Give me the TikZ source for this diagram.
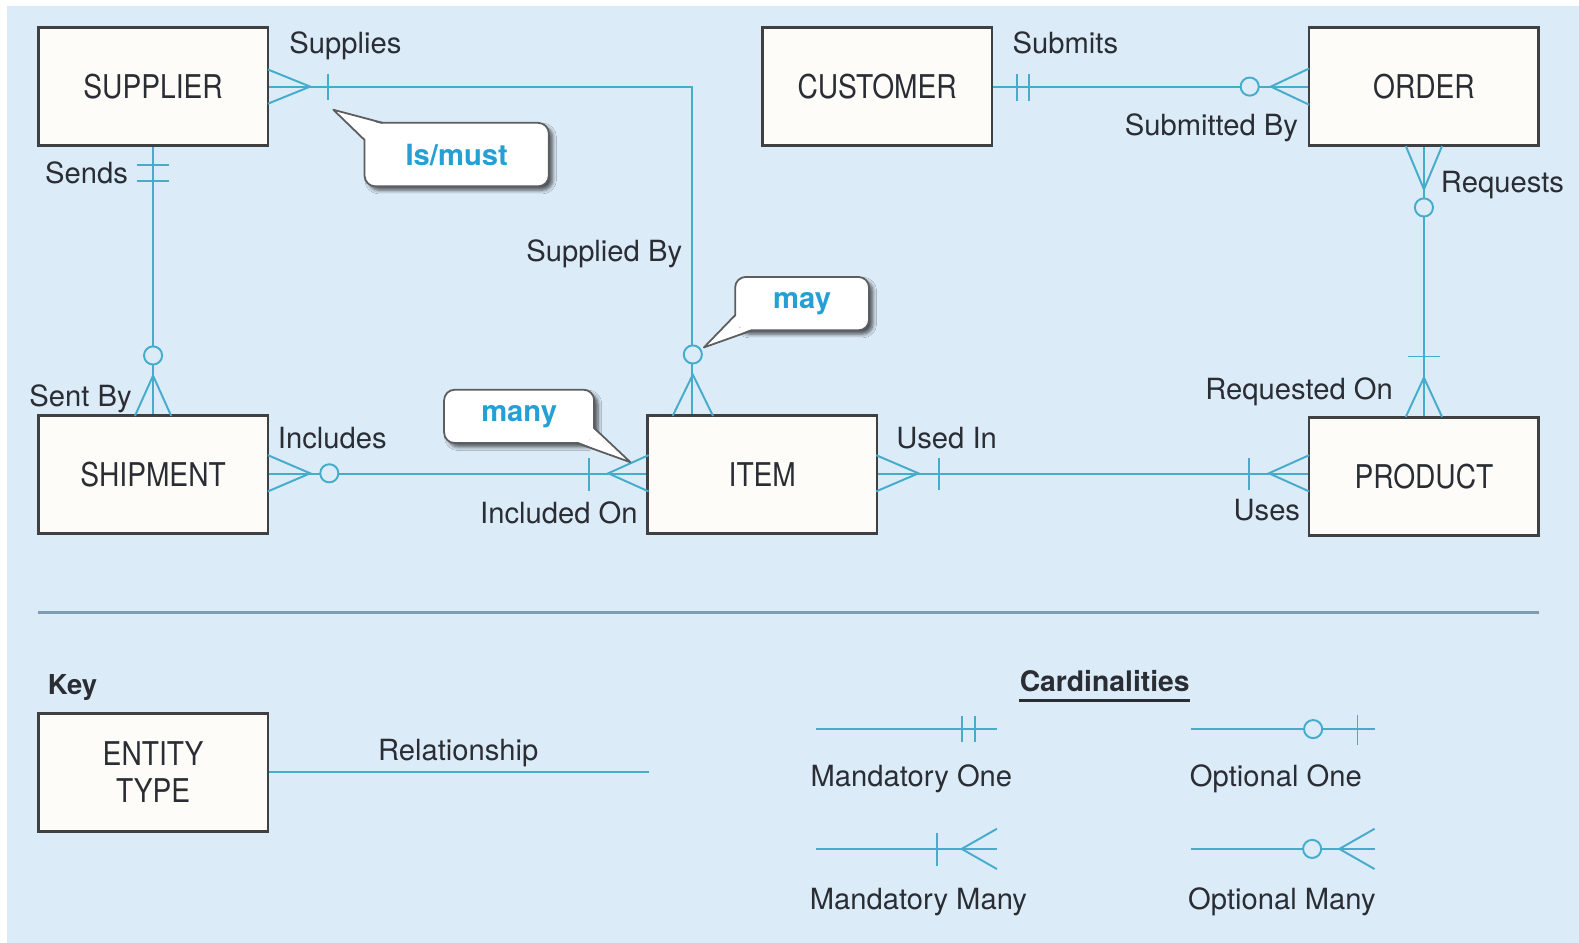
\documentclass[tikz,border=0pt]{standalone}
\usepackage{fontspec}
\setmainfont{TeX Gyre Heros}
\usetikzlibrary{calc,shadows.blur}
\definecolor{bg}{RGB}{220,235,248}
\definecolor{relc}{RGB}{70,172,204}
\definecolor{ink}{RGB}{42,46,52}
\definecolor{boxline}{RGB}{62,64,66}
\definecolor{boxfill}{RGB}{253,252,248}
\definecolor{notec}{RGB}{38,160,212}
\definecolor{sepc}{RGB}{128,156,176}

% entity names are set slightly condensed
\newcommand\entname[1]{\scalebox{0.86}[1]{#1}}

\begin{document}
\begin{tikzpicture}[x=0.02cm,y=-0.02cm,
  rel/.style={draw=relc,line width=1.1pt},
  ringmark/.style={draw=relc,line width=1.1pt,fill=bg},
  entity/.style={draw=boxline,fill=boxfill,line width=1.5pt,minimum width=4.56cm,
    minimum height=2.34cm,inner sep=0pt,text=ink,
    font=\fontsize{18.5}{21}\selectfont,align=center},
  lbl/.style={text=ink,font=\fontsize{16.5}{19}\selectfont,inner sep=0pt,
    text height=12pt,text depth=3.5pt},
  bold lbl/.style={lbl,font=\fontsize{15.5}{19}\selectfont\bfseries},
  note/.style={draw=boxline!85,fill=white,line width=1pt,rounded corners=6pt,
    text=notec,inner sep=0pt,font=\fontsize{16.5}{19}\selectfont\bfseries,
    blur shadow={shadow xshift=2.2pt,shadow yshift=-2.2pt,shadow blur steps=6,shadow opacity=65}},
  wedge/.style={draw=boxline!85,line width=1pt,line join=round},
  sepline/.style={draw=sepc,line width=1.8pt},
]
\useasboundingbox (0,0) rectangle (1568,936);
\fill[bg] (7,6) rectangle (1568,936);

% ---------------- entities ----------------
\node[entity] (sup) at (152,86)  {\entname{SUPPLIER}};
\node[entity] (cus) at (871,86)  {\entname{CUSTOMER}};
\node[entity] (ord) at (1414,86) {\entname{ORDER}};
\node[entity] (shp) at (152,471) {\entname{SHIPMENT}};
\node[entity] (item) at (757,471) {\entname{ITEM}};
\node[entity] (prd) at (1414,473) {\entname{PRODUCT}};

% ---------------- relationships ----------------
\coordinate (itemTop) at ($(item.north west)+(45,0)$);
\draw[rel] (sup.east) -| (itemTop);
\draw[rel] (sup.south) -- (shp.north);
\draw[rel] (shp.east) -- (item.west);
\draw[rel] (item.east) -- (item.east -| prd.west);
\draw[rel] (cus.east) -- (ord.west);
\draw[rel] (ord.south) -- (prd.north);

% ---------------- cardinality marks ----------------
% SUPPLIER side of Supplies: mandatory many
\draw[rel] (266,69) -- (308,86) -- (266,103);
\draw[rel] (326,73) -- (326,99);
% ITEM side of Supplied By: optional many
\draw[rel] (668,413) -- (688,372) -- (708,413);
\draw[ringmark] (688,352) circle[radius=9];
% SUPPLIER side of Sends: mandatory one
\draw[rel] (136,164) -- (168,164);
\draw[rel] (136,180) -- (168,180);
% SHIPMENT side of Sent By: optional many
\draw[rel] (134,413) -- (152,373) -- (170,413);
\draw[ringmark] (152,353) circle[radius=9];
% SHIPMENT side of Includes: optional many
\draw[rel] (266,452) -- (308,470) -- (266,488);
\draw[ringmark] (327,470) circle[radius=9];
% ITEM side of Included On: mandatory many
\draw[rel] (644,452) -- (604,470) -- (644,488);
\draw[rel] (585,455) -- (585,488);
% ITEM side of Used In: mandatory many
\draw[rel] (870,452) -- (912,470) -- (870,488);
\draw[rel] (932,455) -- (932,487);
% PRODUCT side of Uses: mandatory many
\draw[rel] (1300,452) -- (1260,470) -- (1300,488);
\draw[rel] (1240,455) -- (1240,487);
% CUSTOMER side of Submits: mandatory one
\draw[rel] (1010,73) -- (1010,100);
\draw[rel] (1022,73) -- (1022,100);
% ORDER side of Submitted By: optional many
\draw[rel] (1300,68) -- (1262,86) -- (1300,104);
\draw[ringmark] (1241,86) circle[radius=9];
% ORDER side of Requests: optional many
\draw[rel] (1396,145) -- (1414,188) -- (1432,145);
\draw[ringmark] (1414,206) circle[radius=9];
% PRODUCT side of Requested On: mandatory many
\draw[rel] (1396,414) -- (1414,375) -- (1432,414);
\draw[rel] (1398,354) -- (1430,354);

% ---------------- relationship labels ----------------
\node[lbl] (lSupplies) at (343,46)  {Supplies};
\node[lbl] (lSends)    at (86,175)  {Sends};
\node[lbl] (lSentBy)   at (80,396)  {Sent By};
\node[lbl] (lSupBy)    at (600,252) {Supplied By};
\node[lbl] (lIncl)     at (330,438) {Includes};
\node[lbl] (lInclOn)   at (555,512) {Included On};
\node[lbl] (lUsedIn)   at (940,438) {Used In};
\node[lbl] (lUses)     at (1258,509) {Uses};
\node[lbl] (lSubmits)  at (1058,46) {Submits};
\node[lbl] (lSubBy)    at (1203,127) {Submitted By};
\node[lbl] (lReq)      at (1492,184) {Requests};
\node[lbl] (lReqOn)    at (1290,389) {Requested On};

% ---------------- callouts ----------------
\node[note,minimum width=3.66cm,minimum height=1.26cm] (cIs)   at (453.5,153.5) {Is/must};
\node[note,minimum width=2.66cm,minimum height=1.06cm] (cMay)  at (796.5,301.5) {may};
\node[note,minimum width=2.98cm,minimum height=1.06cm] (cMany) at (515.5,413.5) {many};

\coordinate (isTip)   at (331,109);
\coordinate (mayTip)  at (699,345);
\coordinate (manyTip) at (626,459);

\fill[white] (isTip) -- (380,123.5) -- (366,126) -- (363.5,139) -- cycle;
\draw[wedge] (380,122) -- (isTip) -- (362,139);
\fill[white] (mayTip) -- (731.5,313) -- (734,325) -- (747,326.5) -- cycle;
\draw[wedge] (730,313) -- (mayTip) -- (747,328);
\fill[white] (manyTip) -- (573,438.5) -- (586,437) -- (588.5,425) -- cycle;
\draw[wedge] (573,440) -- (manyTip) -- (590,425);

% ---------------- separator ----------------
\coordinate (sepL) at (38,608);
\coordinate (sepR) at (1528,608);
\draw[sepline] (sepL) -- (sepR);

% ---------------- key ----------------
\node[bold lbl] (key) at (72,682) {Key};
\node[entity] (ent) at (152,767) {\entname{ENTITY}\\\entname{TYPE}};
\coordinate (relEnd) at (644,767);
\draw[rel] (ent.east) -- (relEnd);
\node[lbl] (lRel) at (455,748) {Relationship};

\node[bold lbl,font=\fontsize{16}{19}\selectfont\bfseries] (card) at (1097,679) {Cardinalities};
\draw[draw=ink,line width=1.6pt] ($(card.south west)+(0,3)$) -- ($(card.south east)+(0,3)$);

% mandatory one
\coordinate (m1a) at (810,724); \coordinate (m1b) at (990,724);
\draw[rel] (m1a) -- (m1b);
\draw[rel] (955,711) -- (955,737);
\draw[rel] (968,711) -- (968,737);
\node[lbl] (lM1) at (905,774) {Mandatory One};

% optional one
\coordinate (o1a) at (1183,724); \coordinate (o1b) at (1365,724);
\draw[rel] (o1a) -- (o1b);
\draw[ringmark] (1304,724) circle[radius=9];
\draw[rel] (1348,710) -- (1348,740);
\node[lbl] (lO1) at (1267,774) {Optional One};

% mandatory many
\coordinate (mna) at (810,843); \coordinate (mnb) at (990,843);
\draw[rel] (mna) -- (mnb);
\draw[rel] (930,827) -- (930,860);
\draw[rel] (990,823) -- (955,843) -- (990,863);
\node[lbl] (lMn) at (912,896) {Mandatory Many};

% optional many
\coordinate (ona) at (1183,843); \coordinate (onb) at (1365,843);
\draw[rel] (ona) -- (onb);
\draw[ringmark] (1303,843) circle[radius=9];
\draw[rel] (1365,823) -- (1330,843) -- (1365,863);
\node[lbl] (lOn) at (1273,896) {Optional Many};
\end{tikzpicture}
\end{document}
